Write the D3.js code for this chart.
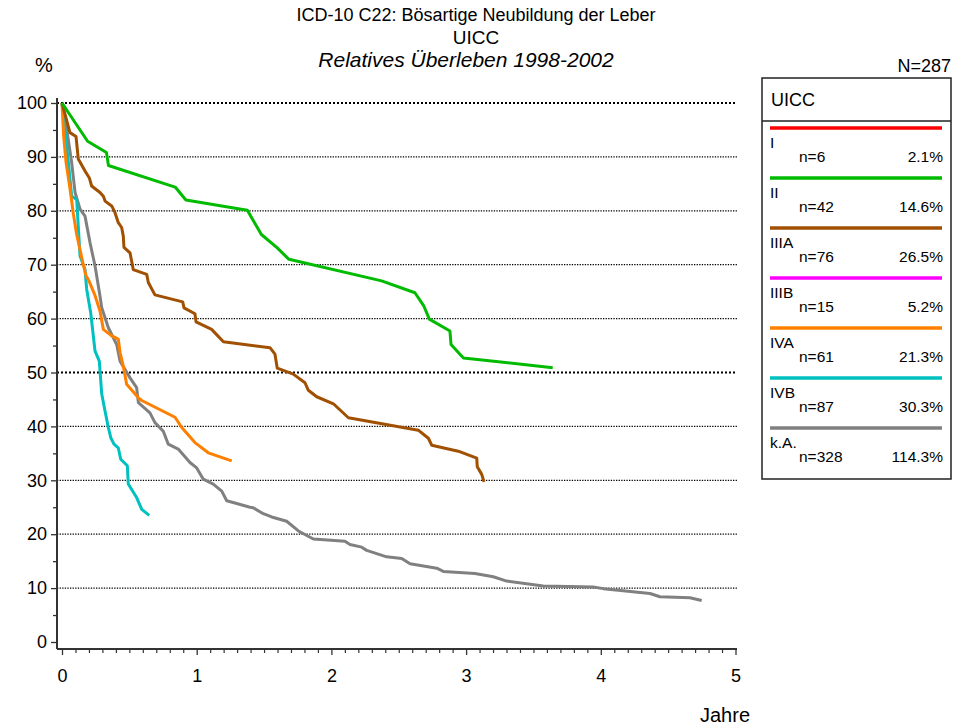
<!DOCTYPE html>
<html><head><meta charset="utf-8">
<script src="https://cdn.jsdelivr.net/npm/d3@7"></script>
<style>body{margin:0;background:#fff}svg{display:block;font-family:"Liberation Sans",Arial,sans-serif}</style>
</head><body><svg id="c" width="953" height="728"></svg>
<script>
// ---- data ----
const titleLines = ["ICD-10 C22: Bösartige Neubildung der Leber", "UICC", "Relatives Überleben 1998-2002"];
const totalN = "N=287";
const legendTitle = "UICC";
const categories = ["I", "II", "IIIA", "IIIB", "IVA", "IVB", "k.A."];
const counts = [6, 42, 76, 15, 61, 87, 328];
const percents = ["2.1%", "14.6%", "26.5%", "5.2%", "21.3%", "30.3%", "114.3%"];
const colors = ["#ff0000", "#00bb00", "#a05000", "#ff00ff", "#ff8000", "#00c0c0", "#808080"];
const xTicks = [0, 1, 2, 3, 4, 5];
const yTicks = [0, 10, 20, 30, 40, 50, 60, 70, 80, 90, 100];

// survival curves [years, %]
const seriesI = [];
const seriesII = [[0,100],[0.19,92.9],[0.33,90.8],[0.345,88.4],[0.84,84.4],[0.92,82.0],[1.376,80.1],[1.48,75.6],[1.594,73.2],[1.685,71.0],[2.373,67.0],[2.62,64.8],[2.687,62.3],[2.727,59.9],[2.88,57.7],[2.888,55.2],[2.98,52.7],[3.643,50.9]];
const seriesIIIA = [[0,100],[0.059,94.5],[0.104,93.8],[0.121,89.6],[0.171,87.4],[0.203,86.1],[0.22,84.6],[0.282,83.4],[0.307,82.7],[0.32,81.8],[0.369,80.9],[0.393,79.7],[0.418,77.8],[0.443,76.9],[0.455,75.3],[0.46,73.2],[0.505,72.2],[0.529,69.1],[0.629,68.2],[0.641,66.7],[0.69,64.4],[0.896,63.1],[0.906,62.0],[0.987,60.9],[0.995,59.4],[1.111,58.0],[1.198,55.7],[1.544,54.6],[1.581,53.4],[1.598,50.8],[1.717,49.7],[1.804,48.1],[1.829,46.7],[1.891,45.5],[2.015,44.2],[2.126,41.6],[2.645,39.3],[2.72,37.8],[2.745,36.5],[2.942,35.4],[3.079,34.1],[3.083,32.5],[3.116,31.1],[3.133,29.7]];
const seriesIIIB = [];
const seriesIVA = [[0,100],[0.012,94],[0.03,89],[0.06,84],[0.084,79.5],[0.109,75.6],[0.158,70],[0.178,68],[0.2,67.0],[0.245,64.3],[0.282,61.4],[0.307,58.0],[0.369,56.8],[0.418,56.2],[0.431,53.7],[0.455,51.2],[0.48,47.8],[0.567,45.3],[0.592,44.8],[0.839,41.7],[0.889,39.8],[0.987,37.0],[1.086,35.1],[1.26,33.6]];
const seriesIVB = [[0,100],[0.035,92],[0.072,82.7],[0.109,82.1],[0.134,71.6],[0.171,69.1],[0.183,65.5],[0.213,61.1],[0.245,54.0],[0.277,52.1],[0.295,46.0],[0.319,42.9],[0.344,39.8],[0.362,37.9],[0.386,36.7],[0.418,36.0],[0.436,33.9],[0.485,32.7],[0.492,29.3],[0.554,26.8],[0.592,24.6],[0.648,23.5]];
const seriesKA = [[0,100],[0.035,95.1],[0.072,88.9],[0.097,83.4],[0.134,80.3],[0.171,79.0],[0.208,74.1],[0.245,69.8],[0.282,64.2],[0.295,62.0],[0.344,58.3],[0.406,55.2],[0.431,52.1],[0.505,49.0],[0.554,47.2],[0.567,44.4],[0.653,42.5],[0.69,40.7],[0.752,39.1],[0.789,36.7],[0.863,35.8],[0.95,33.3],[1.0,32.3],[1.049,30.2],[1.123,29.3],[1.186,28.0],[1.223,26.2],[1.297,25.7],[1.396,25.0],[1.42,24.9],[1.494,23.8],[1.557,23.2],[1.668,22.4],[1.755,20.6],[1.866,19.1],[2.1,18.7],[2.138,18.1],[2.225,17.6],[2.262,17.0],[2.41,15.8],[2.522,15.5],[2.584,14.5],[2.683,14.1],[2.782,13.7],[2.831,13.1],[3.066,12.7],[3.202,12.1],[3.301,11.3],[3.573,10.4],[3.944,10.2],[4.019,9.9],[4.365,9.0],[4.439,8.4],[4.662,8.2],[4.749,7.7]];
const allSeries = [seriesI, seriesII, seriesIIIA, seriesIIIB, seriesIVA, seriesIVB, seriesKA];

// ---- drawing ----
const svg = d3.select("#c");
const x = d3.scaleLinear().domain([0, 5]).range([62, 735.5]);
const y = d3.scaleLinear().domain([0, 100]).range([642, 103]);
const axisX0 = 57, axisY0 = 649;

// titles
const tY = [21, 44, 67], tSize = [18, 19, 21], tX = [476, 476, 466];
titleLines.forEach((t, i) => {
  svg.append("text").attr("x", tX[i]).attr("y", tY[i]).attr("text-anchor", "middle")
    .attr("font-size", tSize[i]).attr("font-style", i === 2 ? "italic" : "normal").text(t);
});
svg.append("text").attr("x", 44).attr("y", 72).attr("text-anchor", "middle").attr("font-size", 20).text("%");
svg.append("text").attr("x", 951).attr("y", 72).attr("text-anchor", "end").attr("font-size", 18).text(totalN);

// grid
const grid = svg.append("g");
yTicks.filter(v => v > 0).forEach(v => {
  const bold = v === 50 || v === 100;
  grid.append("line").attr("x1", axisX0).attr("x2", 737).attr("y1", y(v)).attr("y2", y(v))
    .attr("stroke", "#000").attr("stroke-width", bold ? 2 : 1.2)
    .attr("stroke-dasharray", bold ? "2,2" : "1.3,1.3");
});

// y axis
const yAxis = d3.axisLeft(y).tickValues(yTicks).tickSize(6).tickPadding(4);
const gy = svg.append("g").attr("transform", `translate(${axisX0},0)`).call(yAxis);
gy.select(".domain").remove();
gy.selectAll("text").attr("font-size", 18).attr("font-family", "Liberation Sans, Arial, sans-serif").attr("fill", "#000");
gy.selectAll("line").attr("stroke", "#333").attr("stroke-width", 1.3);
const yMinor = d3.axisLeft(y).tickValues(d3.range(5, 100, 10)).tickSize(4).tickFormat("");
const gym = svg.append("g").attr("transform", `translate(${axisX0},0)`).call(yMinor);
gym.select(".domain").remove();
gym.selectAll("line").attr("stroke", "#333").attr("stroke-width", 1.3);
svg.append("line").attr("x1", axisX0).attr("x2", axisX0).attr("y1", 98).attr("y2", axisY0).attr("stroke", "#333").attr("stroke-width", 2);

// x axis
const xAxis = d3.axisBottom(x).tickValues(xTicks).tickSize(6).tickPadding(14).tickFormat(d3.format("d"));
const gx = svg.append("g").attr("transform", `translate(0,${axisY0})`).call(xAxis);
gx.select(".domain").remove();
gx.selectAll("text").attr("font-size", 18).attr("font-family", "Liberation Sans, Arial, sans-serif").attr("fill", "#000");
gx.selectAll("line").attr("stroke", "#333").attr("stroke-width", 1.3);
const xMinor = d3.axisBottom(x).tickValues(d3.range(0, 50).map(i => i / 10).filter(v => Math.abs(v - Math.round(v)) > 1e-6)).tickSize(4).tickFormat("");
const gxm = svg.append("g").attr("transform", `translate(0,${axisY0})`).call(xMinor);
gxm.select(".domain").remove();
gxm.selectAll("line").attr("stroke", "#333").attr("stroke-width", 1.2);
svg.append("line").attr("x1", axisX0).attr("x2", 737).attr("y1", axisY0).attr("y2", axisY0).attr("stroke", "#333").attr("stroke-width", 2);
svg.append("text").attr("x", 750).attr("y", 722).attr("text-anchor", "end").attr("font-size", 20).text("Jahre");

// curves
const line = d3.line().x(d => x(d[0])).y(d => y(d[1]));
const drawOrder = [6, 5, 4, 3, 2, 1, 0];
drawOrder.forEach(i => {
  if (allSeries[i].length < 2) return;
  svg.append("path").datum(allSeries[i]).attr("d", line).attr("fill", "none")
    .attr("stroke", colors[i]).attr("stroke-width", 3).attr("stroke-linejoin", "round");
});

// legend
const lg = svg.append("g");
lg.append("rect").attr("x", 762).attr("y", 78).attr("width", 189).attr("height", 401)
  .attr("fill", "none").attr("stroke", "#222").attr("stroke-width", 1.5);
lg.append("line").attr("x1", 762).attr("x2", 951).attr("y1", 121).attr("y2", 121).attr("stroke", "#222").attr("stroke-width", 1.5);
lg.append("text").attr("x", 771).attr("y", 106).attr("font-size", 18).text(legendTitle);
categories.forEach((c, i) => {
  const ly = 128 + i * 50;
  lg.append("line").attr("x1", 770).attr("x2", 942).attr("y1", ly).attr("y2", ly).attr("stroke", colors[i]).attr("stroke-width", 3.5);
  lg.append("text").attr("x", 770).attr("y", ly + 20).attr("font-size", 15.5).text(c);
  lg.append("text").attr("x", 799).attr("y", ly + 34).attr("font-size", 15.5).text("n=" + counts[i]);
  lg.append("text").attr("x", 943).attr("y", ly + 34).attr("text-anchor", "end").attr("font-size", 15.5).text(percents[i]);
});
</script></body></html>
